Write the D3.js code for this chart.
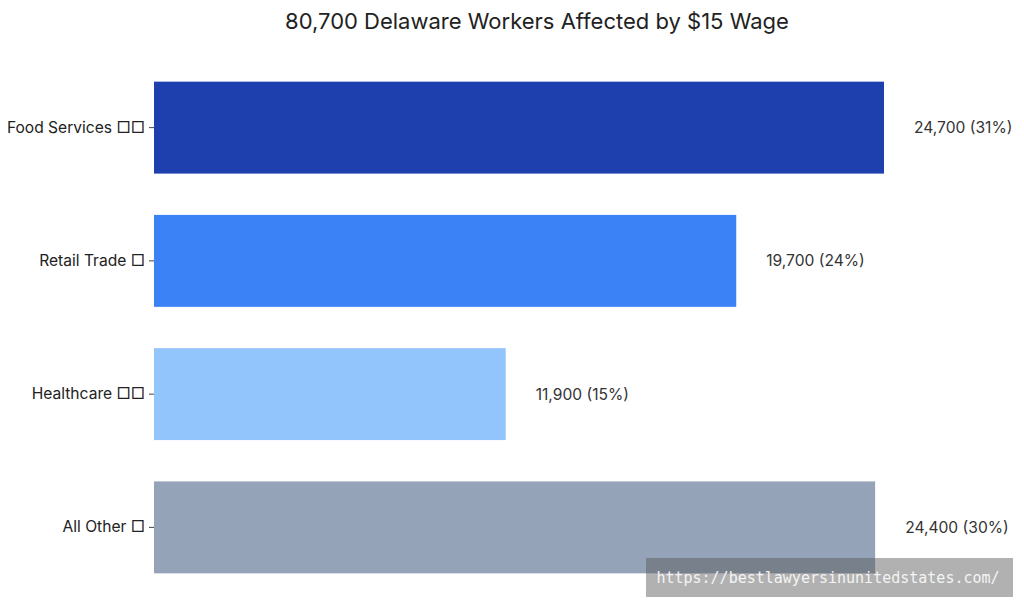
<!DOCTYPE html>
<html>
<head>
<meta charset="utf-8">
<script src="https://cdn.jsdelivr.net/npm/d3@7"></script>
<style>
  body { margin: 0; background: #fff; }
  svg { display: block; font-family: Inter, Roboto, "Open Sans", sans-serif; }
</style>
</head>
<body>
<script>
// emoji in the source rendered as missing-glyph boxes, shown here as □
var categories = ["Food Services \u25A1\u25A1", "Retail Trade \u25A1", "Healthcare \u25A1\u25A1", "All Other \u25A1"];
var workers = [24700, 19700, 11900, 24400];
var shares = [31, 24, 15, 30];
var colors = ["#1e40af", "#3b82f6", "#93c5fd", "#94a3b8"];
var title = "80,700 Delaware Workers Affected by $15 Wage";

var w = 1024, h = 609;

var svg = d3.select("body").append("svg").attr("width", w).attr("height", h)

var x = d3.scaleLinear().domain([0, 24700]).range([154, 884])
var y = d3.scaleBand().domain(categories).range([61, 594]).paddingInner(0.31).paddingOuter(0.155)

var data = categories.map(function(c, i){ return {cat: c, v: workers[i], pct: shares[i], color: colors[i]} })

svg.append("text")
  .attr("x", 537).attr("y", 29)
  .attr("text-anchor", "middle")
  .attr("font-size", 22)
  .attr("fill", "#222")
  .text(title)

svg.append("g").selectAll("rect").data(data).enter()
  .append("rect")
  .attr("x", x(0))
  .attr("y", function(d){ return y(d.cat) })
  .attr("width", function(d){ return x(d.v) - x(0) })
  .attr("height", y.bandwidth())
  .attr("fill", function(d){ return d.color })

svg.append("g").selectAll("text").data(data).enter()
  .append("text")
  .attr("x", function(d){ return x(d.v) + 30 })
  .attr("y", function(d){ return y(d.cat) + y.bandwidth()/2 })
  .attr("dy", "0.35em")
  .attr("font-size", 15.6)
  .attr("fill", "#333")
  .text(function(d){ return d3.format(",")(d.v) + " (" + d.pct + "%)" })

var yAxis = svg.append("g")
  .attr("transform", "translate(" + x(0) + ",0)")
  .call(d3.axisLeft(y).tickSize(5).tickPadding(4))

yAxis.select(".domain").remove()
yAxis.selectAll(".tick line").attr("stroke", "#444")
yAxis.selectAll(".tick text").attr("font-size", 15.6).attr("fill", "#222")
  .attr("font-family", "Inter, Roboto, sans-serif")

// watermark
svg.append("rect")
  .attr("x", 646).attr("y", 558).attr("width", 367).attr("height", 39)
  .attr("fill", "rgba(90,90,90,0.47)")
svg.append("text")
  .attr("x", 828).attr("y", 578)
  .attr("dy", "0.35em")
  .attr("text-anchor", "middle")
  .attr("font-family", "'DejaVu Sans Mono', 'Liberation Mono', monospace")
  .attr("font-size", 15)
  .attr("fill", "#f4f4f4")
  .text("https://bestlawyersinunitedstates.com/")
</script>
</body>
</html>
